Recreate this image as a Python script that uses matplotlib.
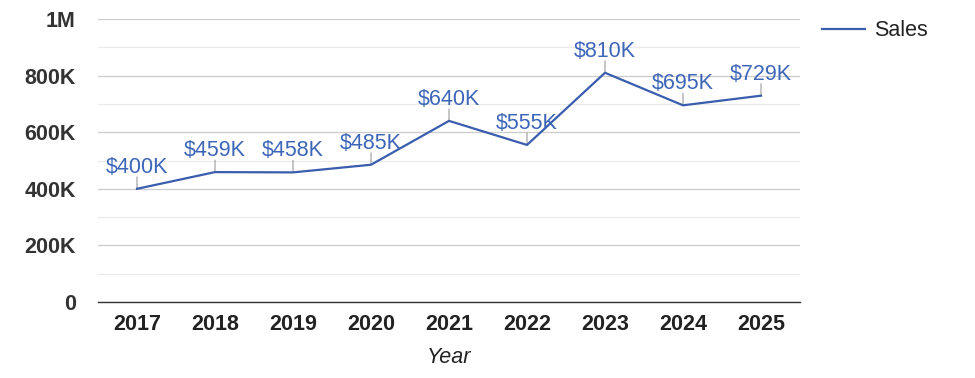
import matplotlib
matplotlib.use("Agg")
import matplotlib.pyplot as plt
from matplotlib.ticker import MultipleLocator

years = ["2017", "2018", "2019", "2020", "2021", "2022", "2023", "2024", "2025"]
sales = [400000, 459000, 458000, 485000, 640000, 555000, 810000, 695000, 729000]
labels = ["$400K", "$459K", "$458K", "$485K", "$640K", "$555K", "$810K", "$695K", "$729K"]
series_name = "Sales"
x_title = "Year"
ytick_vals = [0, 200000, 400000, 600000, 800000, 1000000]
ytick_labels = ["0", "200K", "400K", "600K", "800K", "1M"]

plt.rcParams['font.family'] = ['Liberation Sans', 'DejaVu Sans']
FS = 15.5
line_color = "#3a5dae"
label_color = "#3d66b8"

fig = plt.figure(figsize=(9.75, 3.78), dpi=100)
ax = fig.add_axes([98/975, 76/378, (800-98)/975, (302-19)/378])

xs = list(range(len(years)))
ax.plot(xs, sales, color=line_color, lw=1.6, label=series_name, zorder=3)

for x, y, lab in zip(xs, sales, labels):
    ax.annotate("", xy=(x, y), xytext=(0, 8.6), textcoords="offset points",
                arrowprops=dict(arrowstyle="-", color="#999999", lw=0.8,
                                shrinkA=0, shrinkB=0), zorder=2)
    ax.annotate(lab, xy=(x, y), xytext=(0, 11.5), textcoords="offset points",
                ha="center", va="baseline", fontsize=FS, color=label_color, zorder=4)

ax.set_xlim(-0.5, len(years) - 0.5)
ax.set_ylim(0, 1000000)
ax.set_yticks(ytick_vals)
ax.set_yticklabels(ytick_labels)
ax.yaxis.set_minor_locator(MultipleLocator(100000))
ax.set_xticks(xs)
ax.set_xticklabels(years)

ax.grid(axis="y", which="major", color="#cccccc", lw=0.9)
ax.grid(axis="y", which="minor", color="#ebebeb", lw=0.9)
ax.set_axisbelow(True)

for s in ["top", "right", "left"]:
    ax.spines[s].set_visible(False)
ax.spines["bottom"].set_color("#333333")
ax.spines["bottom"].set_linewidth(1.0)
ax.spines["bottom"].set_zorder(5)

ax.tick_params(axis="y", which="both", length=0, pad=16, labelsize=FS, labelcolor="#333333")
ax.tick_params(axis="x", which="both", length=0, pad=9, labelsize=FS, labelcolor="#222222")
for t in ax.get_yticklabels() + ax.get_xticklabels():
    t.set_fontweight("bold")

ax.set_xlabel(x_title, fontsize=FS, fontstyle="italic", color="#222222", labelpad=8)

fig.legend(loc="upper left", bbox_to_anchor=(803/975, 1 - 1/378), frameon=False,
           fontsize=FS, handlelength=2.0, handletextpad=0.42, labelcolor="#222222")

fig.savefig("out.png", dpi=100)
